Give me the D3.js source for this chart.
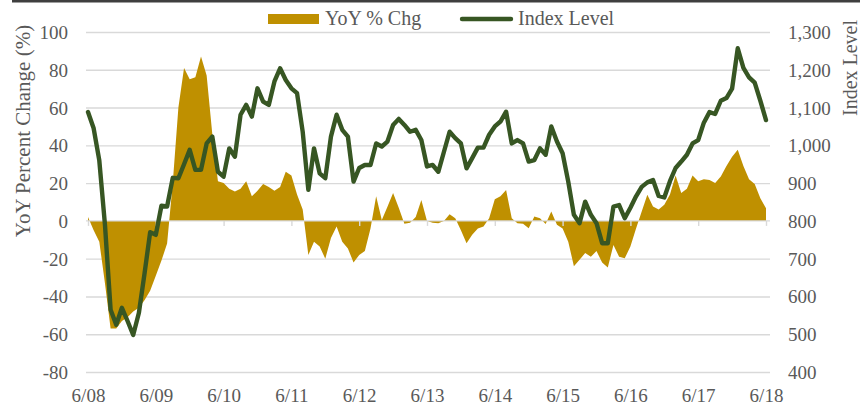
<!DOCTYPE html>
<html>
<head>
<meta charset="utf-8">
<script src="https://cdn.jsdelivr.net/npm/d3@7/dist/d3.min.js"></script>
<style>
  html, body { margin: 0; padding: 0; background: #ffffff; }
  svg { display: block; }
  text { font-family: "Liberation Serif", "Times New Roman", serif; fill: #595959; }
</style>
</head>
<body>
<svg id="chart" width="860" height="407"></svg>
<script>
// ---- Data (monthly, 6/08 .. 6/18) ----
const tickLabels = ["6/08","6/09","6/10","6/11","6/12","6/13","6/14","6/15","6/16","6/17","6/18"];

const yoyPct = [
  2, -5, -11, -33, -57, -57, -53, -51, -48, -46, -42, -37,
  -29, -21, -12, 20, 60, 81, 75, 76, 87, 77, 46, 21,
  20, 17, 15.5, 17, 21, 13, 16, 19.5, 18, 16, 18, 26,
  24, 14, 6, -18, -11, -13.6, -20, -9, -3, -11, -14.6, -22,
  -18, -16, -4, 13, 0.5, 7.5, 14.7, 7, -1.5, -1, 2, 11,
  0, -1, -1.2, 0, 3.5, 1.4, -5, -11.8, -7.4, -4, -3, 1.4,
  11.5, 13, 16.4, 1.4, -1.2, -1.5, -3.9, 2.3, 1.4, -1.7, 5, -2,
  -4, -11, -24, -20.6, -17, -19, -16, -22, -24.7, -12.7, -19, -19.8,
  -13.6, -4, 5, 13.8, 7.6, 6, 8.5, 14, 24, 14.7, 17, 24,
  21, 22, 21.7, 20, 23.5, 29, 34, 37.6, 29, 22, 19.5, 12,
  6.7
];

const indexLevel = [
  1088, 1045, 960, 790, 565, 525, 570, 535, 498, 556, 660, 770,
  763, 840, 838, 914, 913, 950, 988, 935, 935, 1005, 1023, 930,
  917, 992, 970, 1081, 1107, 1076, 1151, 1116, 1107, 1169, 1204, 1173,
  1151, 1138, 1036, 882, 992, 926, 913, 1023, 1081, 1041, 1023, 904,
  940, 948, 948, 1005, 997, 1010, 1054, 1070, 1054, 1036, 1041, 1014,
  944, 948, 930, 983, 1036, 1019, 1005, 939, 966, 994, 994, 1028,
  1050, 1063, 1089, 1005, 1014, 1005, 957, 961, 992, 975, 1050, 1010,
  979, 904, 816, 794, 851, 816, 794, 741, 741, 838, 842, 807,
  835, 865, 890, 902, 908, 866, 862, 905, 940, 957, 975, 1005,
  1014, 1060, 1088, 1083, 1118, 1125, 1150, 1257, 1205, 1180, 1166, 1118,
  1067
];

const leftTicks = [-80, -60, -40, -20, 0, 20, 40, 60, 80, 100];
const rightTicks = [400, 500, 600, 700, 800, 900, 1000, 1100, 1200, 1300];

const seriesNames = ["YoY % Chg", "Index Level"];
const leftTitle = "YoY Percent Change (%)";
const rightTitle = "Index Level";

// ---- Styles ----
const gold = "#bf9000";
const green = "#375623";
const gridColor = "#d9d9d9";
const serif = "'Liberation Serif', 'Times New Roman', serif";

// ---- Layout ----
const plotLeft = 86, plotRight = 770, plotTop = 32, plotBottom = 372;

const svg = d3.select("#chart");

const x = d3.scaleLinear().domain([0, yoyPct.length - 1]).range([88, 766]);
const yL = d3.scaleLinear().domain([-80, 100]).range([plotBottom, plotTop]);
const yR = d3.scaleLinear().domain([400, 1300]).range([plotBottom, plotTop]);

// top rule
svg.append("rect").attr("x", 12).attr("y", 0).attr("width", 848).attr("height", 2.5).attr("fill", "#3f3f3f");

// gridlines
const grid = svg.append("g").attr("transform", `translate(${plotLeft},0)`)
  .call(d3.axisLeft(yL).tickValues(leftTicks.filter(v => v !== 0)).tickSize(-(plotRight - plotLeft)).tickFormat(""));
grid.select(".domain").remove();
grid.selectAll("line").attr("stroke", gridColor).attr("stroke-width", 1.4);

// area (YoY)
const area = d3.area()
  .x((d, i) => x(i))
  .y0(yL(0))
  .y1(d => yL(d));
svg.append("path").datum(yoyPct).attr("d", area).attr("fill", gold);

// zero axis line with ticks
const tickIdx = tickLabels.map((d, i) => i * 12);
const xAxisTicks = svg.append("g").attr("transform", `translate(0,${yL(0)})`)
  .call(d3.axisBottom(x).tickValues(tickIdx).tickSize(5).tickFormat(""));
xAxisTicks.select(".domain").remove();
xAxisTicks.selectAll("line").attr("stroke", gridColor).attr("stroke-width", 1.4);
svg.append("line").attr("x1", plotLeft).attr("x2", plotRight)
  .attr("y1", yL(0)).attr("y2", yL(0)).attr("stroke", gridColor).attr("stroke-width", 1.4);

// x labels
const xLab = svg.append("g").attr("transform", `translate(0,402)`)
  .call(d3.axisBottom(x).tickValues(tickIdx).tickSize(0).tickFormat((d, i) => tickLabels[i]));
xLab.select(".domain").remove();
xLab.attr("font-family", null);
xLab.selectAll("text").attr("y", 0).attr("dy", 0)
  .style("font-family", serif).style("font-size", "19px").style("fill", "#595959");

// index line
const line = d3.line().x((d, i) => x(i)).y(d => yR(d));
svg.append("path").datum(indexLevel).attr("d", line)
  .attr("fill", "none").attr("stroke", green).attr("stroke-width", 4.4)
  .attr("stroke-linejoin", "round").attr("stroke-linecap", "round");

// left axis labels (plain hyphen minus as in the reference)
const la = svg.append("g").attr("transform", `translate(68,0)`)
  .call(d3.axisLeft(yL).tickValues(leftTicks).tickSize(0).tickPadding(0).tickFormat(d => String(d)));
la.select(".domain").remove();
la.attr("font-family", null);
la.selectAll("text").attr("x", 0).attr("dy", "0.34em")
  .style("font-family", serif).style("font-size", "19px").style("fill", "#595959");

// right axis labels
const ra = svg.append("g").attr("transform", `translate(788,0)`)
  .call(d3.axisRight(yR).tickValues(rightTicks).tickSize(0).tickPadding(0).tickFormat(d3.format(",")));
ra.select(".domain").remove();
ra.attr("font-family", null);
ra.selectAll("text").attr("x", 0).attr("dy", "0.34em")
  .style("font-family", serif).style("font-size", "19px").style("fill", "#595959");

// axis titles
svg.append("text").attr("transform", "translate(30,131) rotate(-90)")
  .attr("text-anchor", "middle").style("font-size", "21px").text(leftTitle);
svg.append("text").attr("transform", "translate(857,68) rotate(-90)")
  .attr("text-anchor", "middle").style("font-size", "20px").text(rightTitle);

// legend
svg.append("rect").attr("x", 268).attr("y", 14).attr("width", 51).attr("height", 10).attr("fill", gold);
svg.append("text").attr("x", 325).attr("y", 25).style("font-size", "20px").text(seriesNames[0]);
svg.append("line").attr("x1", 462).attr("x2", 511).attr("y1", 19).attr("y2", 19)
  .attr("stroke", green).attr("stroke-width", 4.4).attr("stroke-linecap", "round");
svg.append("text").attr("x", 518).attr("y", 25).style("font-size", "20px").text(seriesNames[1]);
</script>
</body>
</html>
